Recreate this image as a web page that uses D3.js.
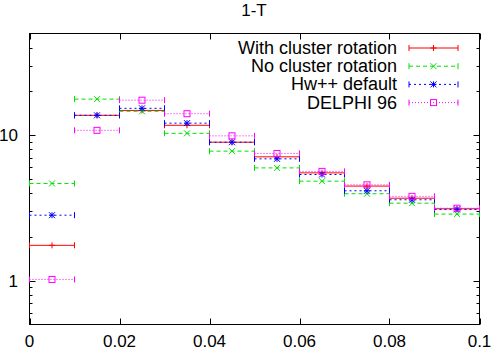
<!DOCTYPE html>
<html lang="en">
<head>
<meta charset="UTF-8">
<title>1-T</title>
<script src="https://d3js.org/d3.v7.min.js"></script>
<style>
    body { margin: 0; background: #fff; }
    text { font-family: "Liberation Sans", Arial, sans-serif; fill: #000; }
</style>
</head>
<body>
<svg id="graph" width="491" height="350"></svg>
<script>
    // bins in 1-T, each 0.01 wide
    const binLow = [0, 0.01, 0.02, 0.03, 0.04, 0.05, 0.06, 0.07, 0.08, 0.09];
    const binHigh = [0.01, 0.02, 0.03, 0.04, 0.05, 0.06, 0.07, 0.08, 0.09, 0.1];

    const withRotation = [1.75, 13.7, 14.8, 11.7, 8.95, 7.10, 5.51, 4.47, 3.69, 3.12];
    const noRotation = [4.66, 17.7, 14.6, 10.3, 7.77, 5.96, 4.83, 3.96, 3.41, 2.87];
    const hwDefault = [2.82, 13.7, 15.3, 12.1, 8.95, 6.88, 5.37, 4.15, 3.60, 3.09];
    const delphi96 = [1.02, 10.8, 17.4, 14.05, 9.9, 7.49, 5.64, 4.56, 3.80, 3.15];

    const seriesNames = ["With cluster rotation", "No cluster rotation", "Hw++ default", "DELPHI 96"];
    const xTickValues = [0, 0.02, 0.04, 0.06, 0.08, 0.1];
    const xTickLabels = ["0", "0.02", "0.04", "0.06", "0.08", "0.1"];
    const yMajorTicks = [1, 10];
    const yMinorTicks = [0.6, 0.7, 0.8, 0.9, 2, 3, 4, 5, 6, 7, 8, 9, 20, 30, 40];

    const series = [
        { name: seriesNames[0], values: withRotation, color: "#ff0000", dash: null, marker: "plus" },
        { name: seriesNames[1], values: noRotation, color: "#00e000", dash: "4,3", marker: "cross" },
        { name: seriesNames[2], values: hwDefault, color: "#0000ff", dash: "2,3", marker: "star" },
        { name: seriesNames[3], values: delphi96, color: "#ff00ff", dash: "1,2", marker: "square" }
    ];

    const svg = d3.select("#graph");
    const plotLeft = 29.5, plotRight = 479.5, plotTop = 33.5, plotBottom = 324.5;

    const x = d3.scaleLinear().domain([0, 0.1]).range([plotLeft, plotRight]);
    const y = d3.scaleLog().domain([0.5, 50]).range([plotBottom, plotTop]);

    // title
    svg.append("text")
        .attr("x", 254).attr("y", 16)
        .attr("text-anchor", "middle")
        .style("font-size", "17px")
        .text("1-T");

    // ticks (inward, mirrored on both sides)
    const ticks = svg.append("g").attr("stroke", "#000").attr("stroke-width", 1);
    xTickValues.forEach(v => {
        const px = Math.round(x(v)) + 0.5;
        ticks.append("line").attr("x1", px).attr("x2", px).attr("y1", plotBottom).attr("y2", plotBottom - 6);
        ticks.append("line").attr("x1", px).attr("x2", px).attr("y1", plotTop).attr("y2", plotTop + 6);
    });
    yMajorTicks.forEach(v => {
        const py = Math.round(y(v)) + 0.5;
        ticks.append("line").attr("x1", plotLeft).attr("x2", plotLeft + 6).attr("y1", py).attr("y2", py);
        ticks.append("line").attr("x1", plotRight).attr("x2", plotRight - 6).attr("y1", py).attr("y2", py);
    });
    yMinorTicks.forEach(v => {
        const py = Math.round(y(v)) + 0.5;
        ticks.append("line").attr("x1", plotLeft).attr("x2", plotLeft + 3).attr("y1", py).attr("y2", py);
        ticks.append("line").attr("x1", plotRight).attr("x2", plotRight - 3).attr("y1", py).attr("y2", py);
    });

    // tick labels
    svg.append("g").selectAll("text")
        .data(xTickValues)
        .join("text")
        .attr("x", d => x(d))
        .attr("y", 347)
        .attr("text-anchor", "middle")
        .style("font-size", "17px")
        .text((d, i) => xTickLabels[i]);

    svg.append("g").selectAll("text")
        .data(yMajorTicks)
        .join("text")
        .attr("x", 18)
        .attr("y", d => y(d) + 6)
        .attr("text-anchor", "end")
        .style("font-size", "17px")
        .text(d => d);

    // frame
    svg.append("rect")
        .attr("x", plotLeft).attr("y", plotTop)
        .attr("width", plotRight - plotLeft).attr("height", plotBottom - plotTop)
        .attr("fill", "none").attr("stroke", "#000");

    function drawMarker(g, type, cx, cy, color) {
        const s = 3;
        if (type === "plus" || type === "star") {
            g.append("line").attr("x1", cx - s).attr("x2", cx + s).attr("y1", cy).attr("y2", cy).attr("stroke", color);
            g.append("line").attr("x1", cx).attr("x2", cx).attr("y1", cy - s).attr("y2", cy + s).attr("stroke", color);
        }
        if (type === "cross" || type === "star") {
            g.append("line").attr("x1", cx - s).attr("x2", cx + s).attr("y1", cy - s).attr("y2", cy + s).attr("stroke", color);
            g.append("line").attr("x1", cx - s).attr("x2", cx + s).attr("y1", cy + s).attr("y2", cy - s).attr("stroke", color);
        }
        if (type === "square") {
            g.append("rect").attr("x", cx - s).attr("y", cy - s).attr("width", 2 * s).attr("height", 2 * s)
                .attr("fill", "none").attr("stroke", color);
        }
    }

    function drawBar(g, s, x1, x2, cy) {
        g.append("line").attr("x1", x1).attr("x2", x2).attr("y1", cy).attr("y2", cy)
            .attr("stroke", s.color).attr("stroke-dasharray", s.dash);
        g.append("line").attr("x1", x1).attr("x2", x1).attr("y1", cy - 3).attr("y2", cy + 3).attr("stroke", s.color);
        g.append("line").attr("x1", x2).attr("x2", x2).attr("y1", cy - 3).attr("y2", cy + 3).attr("stroke", s.color);
    }

    // data
    series.forEach(s => {
        const g = svg.append("g").attr("class", "series");
        s.values.forEach((v, i) => {
            const cy = y(v);
            drawBar(g, s, x(binLow[i]), x(binHigh[i]), cy);
            drawMarker(g, s.marker, x((binLow[i] + binHigh[i]) / 2), cy, s.color);
        });
    });

    // legend
    const legend = svg.append("g");
    series.forEach((s, i) => {
        const ly = 48 + i * 18.2;
        legend.append("text")
            .attr("x", 397).attr("y", ly + 6)
            .attr("text-anchor", "end")
            .style("font-size", "18px")
            .text(s.name);
        drawBar(legend, s, 409, 458, ly);
        drawMarker(legend, s.marker, 433.5, ly, s.color);
    });
</script>
</body>
</html>
